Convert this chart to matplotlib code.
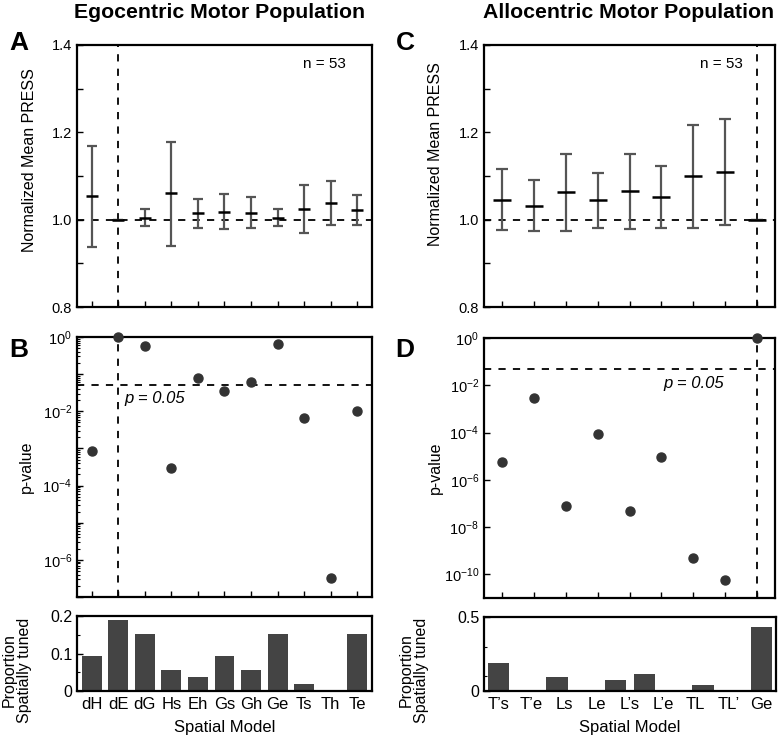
import numpy as np
import matplotlib
matplotlib.use("Agg")
import matplotlib.pyplot as plt
from matplotlib.ticker import FixedLocator, FuncFormatter, NullFormatter

plt.rcParams['font.family'] = ['Liberation Sans', 'DejaVu Sans']
plt.rcParams['mathtext.fontset'] = 'custom'
plt.rcParams['mathtext.rm'] = 'Liberation Sans'
plt.rcParams['mathtext.it'] = 'Liberation Sans:italic'

# ---------------- data ----------------
ego_models = ["dH", "dE", "dG", "Hs", "Eh", "Gs", "Gh", "Ge", "Ts", "Th", "Te"]
ego_mean = [1.054, 1.0, 1.004, 1.060, 1.015, 1.018, 1.016, 1.004, 1.024, 1.038, 1.022]
ego_upper = [1.169, 1.0, 1.025, 1.179, 1.047, 1.058, 1.052, 1.024, 1.080, 1.088, 1.057]
ego_lower = [0.937, 1.0, 0.985, 0.940, 0.981, 0.978, 0.981, 0.985, 0.969, 0.987, 0.987]
ego_p = [8.5e-4, 1.0, 0.59, 3.0e-4, 0.081, 0.035, 0.063, 0.64, 0.0066, 3.2e-7, 0.0104]
ego_prop = [0.094, 0.189, 0.151, 0.057, 0.038, 0.094, 0.057, 0.151, 0.019, 0.0, 0.151]
ego_best = 1  # dE

allo_models = ["T\u2019s", "T\u2019e", "Ls", "Le", "L\u2019s", "L\u2019e", "TL", "TL\u2019", "Ge"]
allo_mean = [1.045, 1.031, 1.063, 1.044, 1.065, 1.053, 1.099, 1.109, 1.0]
allo_upper = [1.115, 1.090, 1.150, 1.108, 1.151, 1.123, 1.216, 1.231, 1.0]
allo_lower = [0.976, 0.973, 0.975, 0.981, 0.978, 0.982, 0.982, 0.988, 1.0]
allo_p = [5.6e-6, 2.9e-3, 7.7e-8, 8.8e-5, 5.0e-8, 9.0e-6, 4.9e-10, 5.8e-11, 1.0]
allo_best = 8  # Ge
allo_prop = [0.189, 0.0, 0.094, 0.0, 0.075, 0.113, 0.0, 0.038, 0.0, 0.434]

n_neurons = 53
p_thresh = 0.05

# ---------------- figure ----------------
W, H = 780, 736
fig = plt.figure(figsize=(W / 100, H / 100), dpi=100)


def ax_px(l, t, r, b):
    return fig.add_axes([l / W, 1 - b / H, (r - l) / W, (b - t) / H])


ERR_C = '#555555'
DOT_C = '#333333'
BAR_C = '#444444'
TICK_FS = 10.5
YLAB_FS = 11.5


def style(ax):
    for s in ax.spines.values():
        s.set_linewidth(1.6)
        s.set_color('black')
    ax.tick_params(direction='in', width=1.0, length=4, labelsize=TICK_FS,
                   top=False, right=False)
    ax.tick_params(which='minor', direction='in', width=0.8, length=2.5)


def press_panel(ax, mean, upper, lower, best, npos, capsize, meansize, ntext_x):
    x = np.arange(npos)
    mean = np.array(mean)
    yerr = [mean - np.array(lower), np.array(upper) - mean]
    ax.errorbar(x, mean, yerr=yerr, fmt='none', ecolor=ERR_C, elinewidth=1.6,
                capsize=capsize, capthick=1.6, zorder=3)
    ax.plot(x, mean, ls='none', marker='_', markersize=meansize,
            mew=1.8, color='black', zorder=4)
    ax.axhline(1.0, color='black', lw=1.3, dashes=(4, 4), zorder=2)
    ax.axvline(best, color='black', lw=1.3, dashes=(4, 4), zorder=2)
    ax.set_ylim(0.8, 1.4)
    ax.set_xlim(-0.55, npos - 0.45)
    ax.yaxis.set_major_locator(FixedLocator([0.8, 1.0, 1.2, 1.4]))
    ax.yaxis.set_minor_locator(FixedLocator([0.9, 1.1, 1.3]))
    ax.set_xticks(x)
    ax.set_xticklabels([])
    ax.text(ntext_x, 0.955, "n = %d" % n_neurons, transform=ax.transAxes,
            ha='right', va='top', fontsize=11)
    ax.set_ylabel("Normalized Mean PRESS", fontsize=YLAB_FS)


def log_fmt(v, pos):
    e = int(round(np.log10(v)))
    if e % 2 == 0:
        return r'$\mathregular{10^{%d}}$' % e
    return ''


# Panel A
axA = ax_px(77, 45, 372, 307)
press_panel(axA, ego_mean, ego_upper, ego_lower, ego_best, len(ego_models),
            capsize=3.3, meansize=9, ntext_x=0.91)
style(axA)
axA.tick_params(which='minor', length=4, width=1.0)
axA.yaxis.set_label_coords(-0.136, 0.56)

# Panel B
axB = ax_px(77, 337, 372, 597)
xb = np.arange(len(ego_models))
axB.plot(xb, ego_p, 'o', color=DOT_C, markersize=6.5, clip_on=False, zorder=4)
axB.set_yscale('log')
axB.set_ylim(1e-7, 1e0)
axB.set_xlim(-0.55, len(ego_models) - 0.45)
axB.axhline(p_thresh, color='black', lw=1.3, dashes=(4, 4))
axB.axvline(ego_best, color='black', lw=1.3, dashes=(4, 4))
axB.yaxis.set_major_locator(FixedLocator([10.0 ** e for e in range(-7, 1)]))
axB.yaxis.set_major_formatter(FuncFormatter(log_fmt))
axB.yaxis.set_minor_locator(FixedLocator([m * 10.0 ** e for e in range(-7, 0) for m in range(2, 10)]))
axB.yaxis.set_minor_formatter(NullFormatter())
axB.set_xticks(xb)
axB.set_xticklabels([])
axB.text(1.25, 0.035, "p = 0.05", fontsize=12, style='italic', va='top', ha='left')
axB.set_ylabel("p-value", fontsize=YLAB_FS)
style(axB)
axB.yaxis.set_label_coords(-0.146, 0.5)

# Bars left
axE = ax_px(77, 616, 372, 691)
axE.bar(np.arange(len(ego_models)), ego_prop, width=0.75, color=BAR_C)
axE.set_xlim(-0.55, len(ego_models) - 0.45)
axE.set_ylim(0, 0.2)
axE.set_xticks(np.arange(len(ego_models)))
axE.set_xticklabels(ego_models)
axE.yaxis.set_major_locator(FixedLocator([0, 0.1, 0.2]))
axE.yaxis.set_minor_locator(FixedLocator([0.05, 0.15]))
axE.set_yticklabels(["0", "0.1", "0.2"])
style(axE)
axE.tick_params(axis='x', length=0, pad=4, labelsize=12)
axE.tick_params(axis='y', labelsize=11.5)
axE.set_xlabel("Spatial Model", fontsize=12, labelpad=6)
axE.set_ylabel("Proportion\nSpatially tuned", fontsize=11.5, linespacing=1.0)
axE.yaxis.set_label_coords(-0.153, 0.28)

# Panel C
axC = ax_px(484, 45, 775, 307)
press_panel(axC, allo_mean, allo_upper, allo_lower, allo_best, len(allo_models),
            capsize=4.4, meansize=12.5, ntext_x=0.89)
style(axC)
axC.tick_params(which='minor', length=4, width=1.0)
axC.yaxis.set_label_coords(-0.141, 0.585)

# Panel D
axD = ax_px(484, 338, 775, 598)
xd = np.arange(len(allo_models))
axD.plot(xd, allo_p, 'o', color=DOT_C, markersize=6.5, clip_on=False, zorder=4)
axD.set_yscale('log')
axD.set_ylim(1e-11, 1e0)
axD.set_xlim(-0.55, len(allo_models) - 0.45)
axD.axhline(p_thresh, color='black', lw=1.3, dashes=(4, 4))
axD.axvline(allo_best, color='black', lw=1.3, dashes=(4, 4))
axD.yaxis.set_major_locator(FixedLocator([10.0 ** e for e in range(-10, 1, 2)]))
axD.yaxis.set_major_formatter(FuncFormatter(log_fmt))
axD.yaxis.set_minor_locator(FixedLocator([]))
axD.set_xticks(xd)
axD.set_xticklabels([])
axD.text(6.0, 0.025, "p = 0.05", fontsize=12, style='italic', va='top', ha='center')
axD.set_ylabel("p-value", fontsize=YLAB_FS)
style(axD)
axD.yaxis.set_label_coords(-0.141, 0.5)

# Bars right
axF = ax_px(484, 617, 776, 691)
nslots = len(allo_prop)
axF.bar(np.arange(nslots), allo_prop, width=0.74, color=BAR_C)
axF.set_xlim(-0.5, nslots - 0.5)
axF.set_ylim(0, 0.5)
axF.set_xticks(np.linspace(0, nslots - 1, len(allo_models)))
axF.set_xticklabels(allo_models)
axF.yaxis.set_major_locator(FixedLocator([0, 0.5]))
axF.yaxis.set_minor_locator(FixedLocator([0.1, 0.3]))
axF.set_yticklabels(["0", "0.5"])
style(axF)
axF.tick_params(axis='x', length=0, pad=4, labelsize=12)
axF.tick_params(axis='y', labelsize=11.5)
axF.set_xlabel("Spatial Model", fontsize=12, labelpad=6)
axF.set_ylabel("Proportion\nSpatially tuned", fontsize=11.5, linespacing=1.0)
axF.yaxis.set_label_coords(-0.19, 0.28)

# Titles and letters
fig.text(220 / W, 1 - 13 / H, "Egocentric Motor Population", ha='center', va='center',
         fontsize=15.3, fontweight='bold')
fig.text(629 / W, 1 - 13 / H, "Allocentric Motor Population", ha='center', va='center',
         fontsize=15.3, fontweight='bold')
for lab, x, y in [("A", 19, 43), ("B", 19, 350), ("C", 405, 43), ("D", 405, 350)]:
    fig.text(x / W, 1 - y / H, lab, ha='center', va='center', fontsize=19, fontweight='bold')

fig.savefig("out.png", dpi=100)
